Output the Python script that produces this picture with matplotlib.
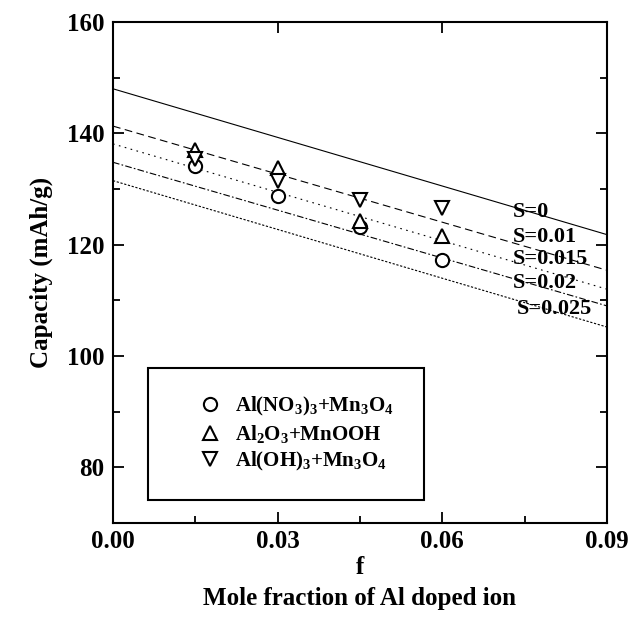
"""
Discharge capacity vs. Al doping fraction, with model lines for several S values.
"""

import matplotlib
matplotlib.use('Agg')
import matplotlib.pyplot as plt
from matplotlib.patches import Rectangle
from matplotlib.ticker import MultipleLocator, FormatStrFormatter

# measured points
f_points = [0.015, 0.03, 0.045, 0.06]
cap_nitrate = [134.2, 128.8, 123.1, 117.2]     # Al(NO3)3 + Mn3O4
cap_oxide = [137.0, 133.8, 124.2, 121.5]       # Al2O3 + MnOOH
cap_hydroxide = [135.4, 131.5, 128.0, 126.5]   # Al(OH)3 + Mn3O4

# model lines, capacity at f=0 and f=0.09
f_line = [0.0, 0.09]
s_labels = ['S=0', 'S=0.01', 'S=0.015', 'S=0.02', 'S=0.025']
cap_lines = [
    [148.0, 121.8],
    [141.3, 115.4],
    [138.1, 112.0],
    [134.8, 109.0],
    [131.5, 105.2],
]

series_labels = [
    r'Al(NO$_3$)$_3$+Mn$_3$O$_4$',
    r'Al$_2$O$_3$+MnOOH',
    r'Al(OH)$_3$+Mn$_3$O$_4$',
]

plt.rcParams['font.family'] = ['Liberation Serif', 'DejaVu Serif']
plt.rcParams['font.weight'] = 'bold'
plt.rcParams['mathtext.fontset'] = 'custom'
plt.rcParams['mathtext.rm'] = 'Liberation Serif:bold'
plt.rcParams['mathtext.it'] = 'Liberation Serif:bold'
plt.rcParams['mathtext.bf'] = 'Liberation Serif:bold'


def main():
    fig = plt.figure(figsize=(6.42, 6.23), dpi=100)
    ax = fig.add_axes([0.176, 0.1605, 0.7695, 0.8042])

    # model lines
    styles = ['-', (0, (7, 4)), (0, (1.5, 4)), (0, (6, 2, 1.5, 2)), (0, (2, 1.5))]
    for cap, ls in zip(cap_lines, styles):
        ax.plot(f_line, cap, color='black', linestyle=ls, linewidth=0.8)

    label_pos = [(0.0729, 125.9), (0.0729, 121.3), (0.0729, 117.5),
                 (0.0729, 113.2), (0.0736, 108.5)]
    for text, (x, y) in zip(s_labels, label_pos):
        ax.text(x, y, text, fontsize=16, fontweight='bold', va='center', ha='left')

    mk = dict(linestyle='none', markerfacecolor='white',
              markeredgecolor='black', markeredgewidth=1.5, clip_on=False)
    h1, = ax.plot(f_points, cap_nitrate, marker='o', markersize=9.5, zorder=2, **mk)
    h2, = ax.plot(f_points, cap_oxide, marker='^', markersize=10.5, zorder=3, **mk)
    h3, = ax.plot(f_points, cap_hydroxide, marker='v', markersize=10.5, zorder=3, **mk)

    ax.set_xlim(0, 0.09)
    ax.set_ylim(70, 160)
    ax.xaxis.set_major_locator(MultipleLocator(0.03))
    ax.xaxis.set_minor_locator(MultipleLocator(0.015))
    ax.yaxis.set_major_locator(MultipleLocator(20))
    ax.yaxis.set_minor_locator(MultipleLocator(10))
    ax.xaxis.set_major_formatter(FormatStrFormatter('%.2f'))

    ax.tick_params(which='both', direction='in', top=True, right=True, width=1.3)
    ax.tick_params(which='major', length=8, labelsize=18)
    ax.tick_params(axis='x', which='major', pad=5)
    ax.tick_params(axis='y', which='major', pad=6)
    ax.tick_params(which='minor', length=5, top=False)
    for lab in ax.get_xticklabels() + ax.get_yticklabels():
        lab.set_fontweight('bold')
    for sp in ax.spines.values():
        sp.set_linewidth(1.5)

    ax.set_ylabel('Capacity (mAh/g)', fontsize=18, fontweight='bold', labelpad=10)
    ax.set_xlabel('f', fontsize=18, fontweight='bold', labelpad=2)
    fig.text(0.56, 0.04, 'Mole fraction of Al doped ion', fontsize=18,
             fontweight='bold', ha='center', va='center')

    # legend box
    ax.add_patch(Rectangle((0.0709, 0.0459), 0.5587, 0.2635, transform=ax.transAxes,
                           fill=False, edgecolor='black', linewidth=1.5, zorder=4))
    ax.legend([h1, h2, h3], series_labels, loc='center', bbox_to_anchor=(0.37, 0.178),
              frameon=False, handletextpad=0.6, labelspacing=0.25,
              handlelength=1.2, prop={'weight': 'bold', 'size': 15})

    fig.savefig('out.png', dpi=100)


if __name__ == '__main__':
    main()
